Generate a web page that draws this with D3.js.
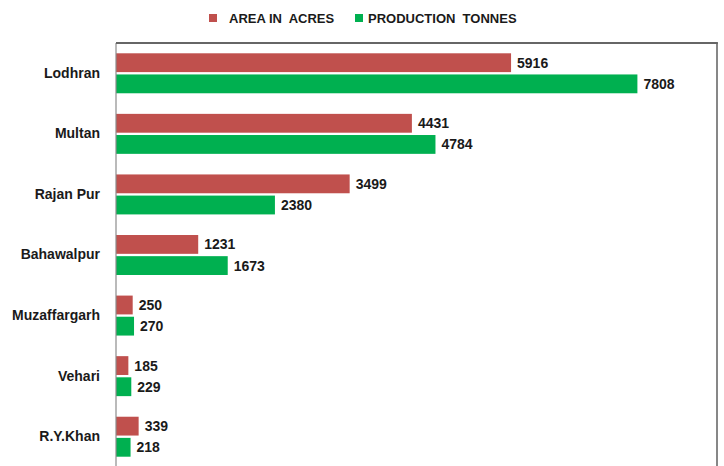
<!DOCTYPE html>
<html>
<head>
<meta charset="utf-8">
<script src="https://cdn.jsdelivr.net/npm/d3@7/dist/d3.min.js"></script>
<style>
  html, body { margin: 0; padding: 0; background: #fff; }
  svg { display: block; }
  text { font-family: "Liberation Sans", Arial, sans-serif; font-weight: bold; fill: #1a1a1a; }
</style>
</head>
<body>
<svg id="chart" width="724" height="466"></svg>
<script>
// District names, top to bottom
const districts = ["Lodhran", "Multan", "Rajan Pur", "Bahawalpur", "Muzaffargarh", "Vehari", "R.Y.Khan"];
// Area under cultivation (acres)
const areaAcres = [5916, 4431, 3499, 1231, 250, 185, 339];
// Production (tonnes)
const productionTonnes = [7808, 4784, 2380, 1673, 270, 229, 218];
const seriesNames = ["AREA IN  ACRES", "PRODUCTION  TONNES"];
const seriesColors = ["#C0504D", "#00B050"];

const svg = d3.select("#chart");
const W = 724, H = 466;
const plot = { left: 116, right: 717, top: 43, bottom: 467 };

const x = d3.scaleLinear().domain([0, 9000]).range([plot.left, plot.right]);
const y = d3.scaleBand().domain(districts).range([plot.top, plot.bottom]).paddingInner(0.34).paddingOuter(0.17);
const sub = d3.scaleBand().domain([0, 1]).range([0, y.bandwidth()]).paddingInner(0.11);

const rows = districts.map((d, i) => ({ name: d, values: [areaAcres[i], productionTonnes[i]] }));

// Bars
const g = svg.append("g");
const groups = g.selectAll("g.district").data(rows).join("g")
  .attr("class", "district")
  .attr("transform", d => `translate(0,${y(d.name)})`);

groups.selectAll("rect").data(d => d.values.map((v, k) => ({ v, k }))).join("rect")
  .attr("x", x(0))
  .attr("y", d => sub(d.k))
  .attr("width", d => x(d.v) - x(0))
  .attr("height", sub.bandwidth())
  .attr("fill", d => seriesColors[d.k]);

groups.selectAll("text.val").data(d => d.values.map((v, k) => ({ v, k }))).join("text")
  .attr("class", "val")
  .attr("x", d => x(d.v) + 6)
  .attr("y", d => sub(d.k) + sub.bandwidth() / 2)
  .attr("dy", "0.36em")
  .attr("font-size", 14)
  .text(d => d.v);

// Category axis
const yAxis = d3.axisLeft(y).tickSize(0).tickPadding(16);
const ya = svg.append("g").attr("transform", `translate(${plot.left},0)`).call(yAxis);
ya.select(".domain").remove();
ya.selectAll("text").attr("font-size", 14).attr("font-family", null).style("fill", "#1a1a1a");

// Plot frame
svg.append("line").attr("x1", plot.left).attr("x2", plot.left).attr("y1", plot.top).attr("y2", H)
  .attr("stroke", "#8c8c8c").attr("stroke-width", 1.2);
svg.append("line").attr("x1", plot.right).attr("x2", plot.right).attr("y1", plot.top).attr("y2", H)
  .attr("stroke", "#7a7a7a").attr("stroke-width", 1.8);
svg.append("line").attr("x1", plot.left).attr("x2", plot.right + 0.9).attr("y1", plot.top).attr("y2", plot.top)
  .attr("stroke", "#666").attr("stroke-width", 2);

// Legend
const legend = svg.append("g").attr("transform", "translate(209,18)");
const legX = [0, 146];
seriesNames.forEach((name, k) => {
  const lg = legend.append("g").attr("transform", `translate(${legX[k]},0)`);
  lg.append("rect").attr("x", 0).attr("y", -4).attr("width", 8).attr("height", 8).attr("fill", seriesColors[k]);
  lg.append("text").attr("x", k === 0 ? 20 : 13).attr("y", 0).attr("dy", "0.36em")
    .attr("font-size", 13).style("white-space", "pre").text(name);
});
</script>
</body>
</html>
